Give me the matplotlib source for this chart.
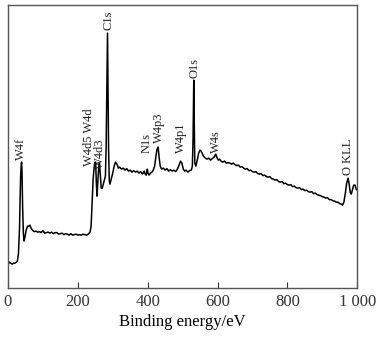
import matplotlib
matplotlib.use("Agg")
import matplotlib.pyplot as plt

# Binding energy (eV) and intensity (arbitrary units)
energy = [0, 4, 8, 12, 16, 20, 24, 27, 30, 33, 36, 38, 39, 40, 42, 44, 46, 48, 52, 56, 60, 63, 66,
          70, 75, 80, 85, 90, 95, 100, 105, 110, 115, 120, 125, 130, 135, 140, 145, 150, 155, 160,
          165, 170, 175, 180, 185, 190, 195, 200, 205, 210, 215, 220, 225, 230, 235, 238, 241, 244,
          247, 249, 251, 253, 255, 257, 260, 262, 264, 267, 270, 273, 276, 279, 281, 283, 285, 286.5,
          288, 290, 292, 295, 300, 304, 308, 312, 316, 320, 325, 330, 335, 340, 345, 350, 355, 360,
          365, 370, 375, 380, 385, 390, 393, 396, 399, 401, 404, 408, 412, 416, 420, 424, 427, 430,
          433, 436, 440, 445, 450, 455, 460, 465, 470, 475, 480, 485, 490, 494, 498, 502, 506, 510,
          515, 520, 525, 528, 530, 531, 532, 533, 535, 538, 542, 546, 550, 553, 556, 560, 565, 570,
          575, 580, 585, 590, 595, 598, 602, 606, 610, 615, 620, 625, 630, 636, 640, 645, 650, 655,
          660, 665, 670, 675, 680, 685, 690, 695, 700, 705, 710, 715, 720, 725, 730, 735, 740, 745,
          750, 755, 760, 765, 770, 775, 780, 785, 790, 795, 800, 805, 810, 815, 820, 825, 830, 835,
          840, 845, 850, 855, 860, 865, 870, 875, 880, 885, 890, 895, 900, 905, 910, 915, 920, 925,
          930, 935, 940, 945, 950, 955, 958, 962, 966, 970, 974, 977, 980, 983, 986, 990, 994, 997,
          1000]
intensity = [24, 26, 25, 24, 25, 25, 26, 27, 35, 60, 110, 124, 126, 118, 80, 55, 47, 50, 58, 62, 62,
             63, 60, 58, 56.5, 57, 56, 56.5, 55.5, 57.5, 55, 55.5, 56, 55, 56, 54.5, 55.5, 55.5, 54,
             54.5, 55, 53.5, 54.5, 54, 53, 54.5, 53, 53.5, 54, 53, 53.5, 53, 54, 53.5, 53, 54, 56, 62,
             85, 110, 122, 126, 126, 105, 92, 105, 122, 125, 115, 100, 100, 104, 108, 112, 140, 200,
             255, 200, 140, 108, 104, 108, 115, 122, 126, 124, 120, 121, 119, 120, 118, 119.5, 117,
             118, 116, 117.5, 116, 117, 115, 116.5, 114, 117, 114, 113, 119, 115, 113, 115, 116, 118,
             122, 133, 139, 141, 130, 122, 119, 120, 118, 119.5, 117, 118.5, 117, 118, 116.5, 119,
             123, 127, 125, 119, 117, 118, 116, 117.5, 118, 122, 150, 180, 208, 175, 125, 122, 128,
             135, 138, 137, 135, 132, 130, 129, 130, 128, 129.5, 131, 134, 131, 128, 129, 127, 126,
             127, 125, 125.5, 125, 124, 125, 123.5, 122.5, 123, 121, 121.5, 120, 119, 119.5, 117.5,
             118, 116.5, 116, 116.5, 114.5, 114, 114.5, 112.5, 113, 111.5, 111, 111.5, 109.5, 109,
             108, 108.5, 106.5, 106, 106.5, 104.5, 105, 103.5, 103, 103.5, 101.5, 102, 100.5, 100,
             100.5, 98.5, 99, 97.5, 98, 96.5, 96, 96.5, 94.5, 95, 93.5, 93, 92.5, 91.5, 91, 90, 90.5,
             88.5, 88.5, 87.5, 87, 86, 86, 84.5, 84, 83, 86, 95, 105, 110, 104, 96, 94, 98, 103, 103,
             99, 98]

# Peak labels: text, energy of label, intensity at label bottom
peak_labels = ["W4f", "W4d5 W4d", "W4d3", "C1s", "N1s", "W4p3", "W4p1", "O1s", "W4s", "O KLL"]
label_energy = [36, 233, 264, 289, 397, 431, 496, 533, 597, 974]
label_bottom = [128, 122, 119, 258, 135, 145, 135, 210, 135, 113]

xticks = [0, 200, 400, 600, 800, 1000]
xtick_labels = ["0", "200", "400", "600", "800", "1 000"]

serif = ["Liberation Serif", "DejaVu Serif"]

fig = plt.figure(figsize=(3.88, 3.39), dpi=100)
ax = fig.add_axes([0.0206, 0.150, 0.900, 0.835])
ax.plot(energy, intensity, color="black", lw=1.1)
ax.set_xlim(0, 1000)
ax.set_ylim(0, 283)

for t, e, b in zip(peak_labels, label_energy, label_bottom):
    ax.text(e, b, t, rotation=90, ha="center", va="bottom",
            fontsize=9, family=serif, color="#222222")

ax.set_xticks(xticks)
ax.set_xticklabels(xtick_labels, family=serif, fontsize=12)
ax.set_yticks([])
ax.tick_params(axis="x", direction="in", length=4, width=0.8, pad=4, colors="#333333")
ax.set_xlabel("Binding energy/eV", family=serif, fontsize=12, labelpad=3)
for s in ax.spines.values():
    s.set_color("#555555")
    s.set_linewidth(1.0)

fig.savefig("out.png", dpi=100)
